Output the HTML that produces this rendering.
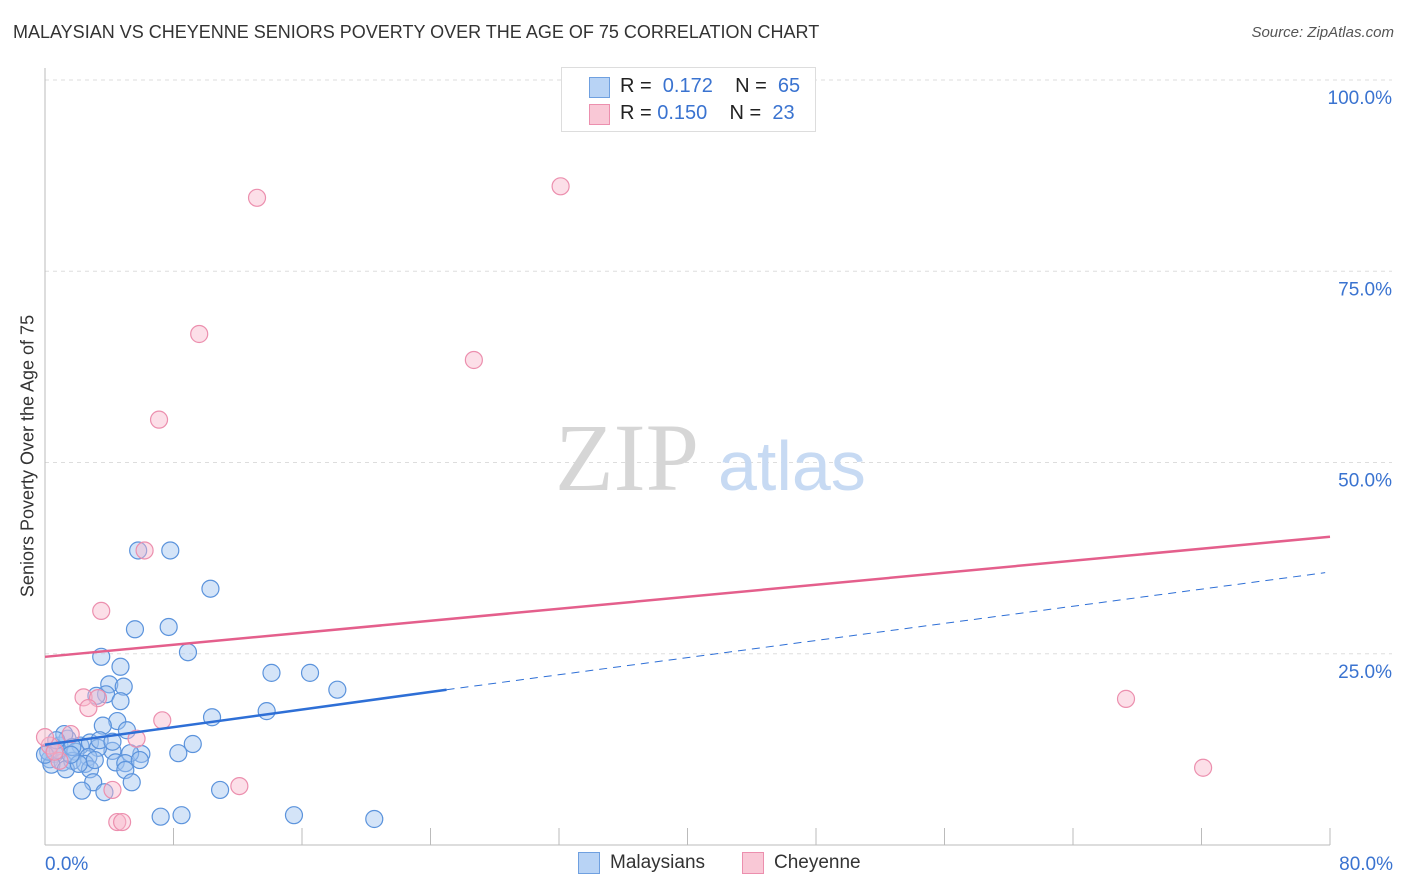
<!DOCTYPE html>
<html><head><meta charset="utf-8"><style>
body{margin:0;background:#fff;font-family:"Liberation Sans",sans-serif;}
#wrap{position:relative;width:1406px;height:892px;overflow:hidden}
.t{position:absolute;white-space:nowrap}
</style></head><body>
<div id="wrap">
<div class="t" style="left:13px;top:22px;font-size:18px;color:#333">MALAYSIAN VS CHEYENNE SENIORS POVERTY OVER THE AGE OF 75 CORRELATION CHART</div>
<div class="t" style="right:12px;top:24px;font-size:15px;color:#555;font-style:italic">Source: ZipAtlas.com</div>
<div class="t" style="left:28px;top:456px;font-size:18px;color:#333;transform:translate(-50%,-50%) rotate(-90deg)">Seniors Poverty Over the Age of 75</div>
<svg id="svg" width="1406" height="892" style="position:absolute;left:0;top:0"></svg>
<div style="position:absolute;left:561px;top:67px;width:253px;height:63px;border:1px solid #ddd;background:#fff;font-size:20px">
 <div style="position:absolute;left:27px;top:9px;width:19px;height:19px;background:#b8d3f5;border:1px solid #6fa0e0"></div>
 <div class="t" style="left:58px;top:7px;color:#222">R = <span style="color:#3a73d0">&nbsp;0.172</span>&nbsp;&nbsp;&nbsp; N = <span style="color:#3a73d0">&nbsp;65</span></div>
 <div style="position:absolute;left:27px;top:36px;width:19px;height:19px;background:#f9c8d6;border:1px solid #ec8fae"></div>
 <div class="t" style="left:58px;top:34px;color:#222">R = <span style="color:#3a73d0">0.150</span>&nbsp;&nbsp;&nbsp; N = <span style="color:#3a73d0">&nbsp;23</span></div>
</div>
<div style="position:absolute;left:578px;top:852px;font-size:19px;color:#333">
 <span style="position:absolute;left:0;top:0;width:20px;height:20px;background:#b8d3f5;border:1px solid #6fa0e0"></span>
 <span class="t" style="left:32px;top:0">Malaysians</span>
 <span style="position:absolute;left:164px;top:0;width:20px;height:20px;background:#f9c8d6;border:1px solid #ec8fae"></span>
 <span class="t" style="left:196px;top:0">Cheyenne</span>
</div>
</div>
<script>
const xTicks=[0,80];
const yTicks=[25,50,75,100];
const blueX=[5.8,7.8,10.3,5.6,7.7,8.9,3.5,4.7,14.1,16.5,18.2,4.0,4.9,3.8,3.2,4.7,10.4,13.8,4.5,3.6,5.1,9.2,8.3,6.0,4.2,5.3,0.9,1.4,2.2,2.8,3.3,1.9,2.7,0.6,0.3,1.1,1.7,2.5,4.4,5.0,0.4,1.3,2.8,5.0,3.0,5.4,2.3,3.7,10.9,7.2,8.5,15.5,20.5,0.2,0.8,2.1,3.4,1.2,1.7,4.2,5.9,0,0.7,1.6,3.1];
const blueY=[38.5,38.5,33.5,28.2,28.5,25.2,24.6,23.3,22.5,22.5,20.3,21.0,20.7,19.7,19.5,18.8,16.7,17.5,16.2,15.6,15.0,13.2,12.0,11.9,12.3,12.0,13.0,13.9,13.0,13.4,12.7,12.2,11.5,11.9,11.2,10.8,11.0,10.6,10.8,10.7,10.5,9.9,9.9,9.8,8.2,8.2,7.1,6.9,7.2,3.7,3.9,3.9,3.4,12.2,12.4,10.6,13.7,14.5,12.8,13.5,11.1,11.8,13.7,11.8,11.1];
const pinkX=[13.2,32.1,9.6,26.7,7.1,6.2,3.5,2.4,3.3,2.7,7.3,5.7,12.1,4.2,4.5,4.8,67.3,72.1,1.6,0.3,0.9,0,0.6];
const pinkY=[84.6,86.1,66.8,63.4,55.6,38.5,30.6,19.3,19.2,17.9,16.3,13.9,7.7,7.2,3.0,3.0,19.1,10.1,14.5,13.0,11.0,14.1,12.2];
const blueTrend=[[0,13.1],[25,20.3]], blueDash=[[25,20.3],[79.7,35.6]];
const pinkTrend=[[0,24.6],[80,40.3]];
const X=v=>45+v/80*1285, Y=v=>845-v/100*765;
const svg=document.getElementById('svg');const NS='http://www.w3.org/2000/svg';
function mk(t,a){const e=document.createElementNS(NS,t);for(const k in a)e.setAttribute(k,a[k]);svg.appendChild(e);return e;}
yTicks.forEach(v=>{const g=mk('line',{x1:45,x2:1392,y1:Y(v),y2:Y(v),stroke:'#ddd','stroke-dasharray':'4,4'});


const t=mk('text',{x:1392,y:Y(v)+24,'text-anchor':'end','font-size':19,fill:'#3a73d0','font-family':'Liberation Sans'});t.textContent=v.toFixed(1)+'%';

});
mk('line',{x1:45,x2:45,y1:68,y2:845,stroke:'#bbb'});
mk('line',{x1:45,x2:1330,y1:845,y2:845,stroke:'#bbb'});
for(let i=1;i<=10;i++){const x=X(i*8);mk('line',{x1:x,x2:x,y1:828,y2:845,stroke:'#bbb'});}
xTicks.forEach((v,i)=>{const t=mk('text',{x:i?1393:X(v),y:870,'text-anchor':i?'end':'start','font-size':19,fill:'#3a73d0','font-family':'Liberation Sans'});t.textContent=v.toFixed(1)+'%';

});
const w1=mk('text',{x:555,y:490,'font-size':96,fill:'#d6d6d6','font-family':'Liberation Serif'});w1.textContent='ZIP';


const w2=mk('text',{x:718,y:490,'font-size':70,fill:'#c7daf3','font-family':'Liberation Sans'});w2.textContent='atlas';


blueX.forEach((v,i)=>{const c=mk('circle',{cx:X(v),cy:Y(blueY[i]),r:8.5,fill:'rgba(160,195,240,0.45)',stroke:'#5b93dc','stroke-width':1.2});

});
pinkX.forEach((v,i)=>{const c=mk('circle',{cx:X(v),cy:Y(pinkY[i]),r:8.5,fill:'rgba(248,185,205,0.45)',stroke:'#ec8fae','stroke-width':1.2});

});
let l=mk('line',{x1:X(blueTrend[0][0]),y1:Y(blueTrend[0][1]),x2:X(blueTrend[1][0]),y2:Y(blueTrend[1][1]),stroke:'#2e6fd6','stroke-width':2.5});


l=mk('line',{x1:X(blueDash[0][0]),y1:Y(blueDash[0][1]),x2:X(blueDash[1][0]),y2:Y(blueDash[1][1]),stroke:'#2e6fd6','stroke-width':1,'stroke-dasharray':'8,6'});


l=mk('line',{x1:X(pinkTrend[0][0]),y1:Y(pinkTrend[0][1]),x2:X(pinkTrend[1][0]),y2:Y(pinkTrend[1][1]),stroke:'#e45f8c','stroke-width':2.5});


</script>
</body></html>
